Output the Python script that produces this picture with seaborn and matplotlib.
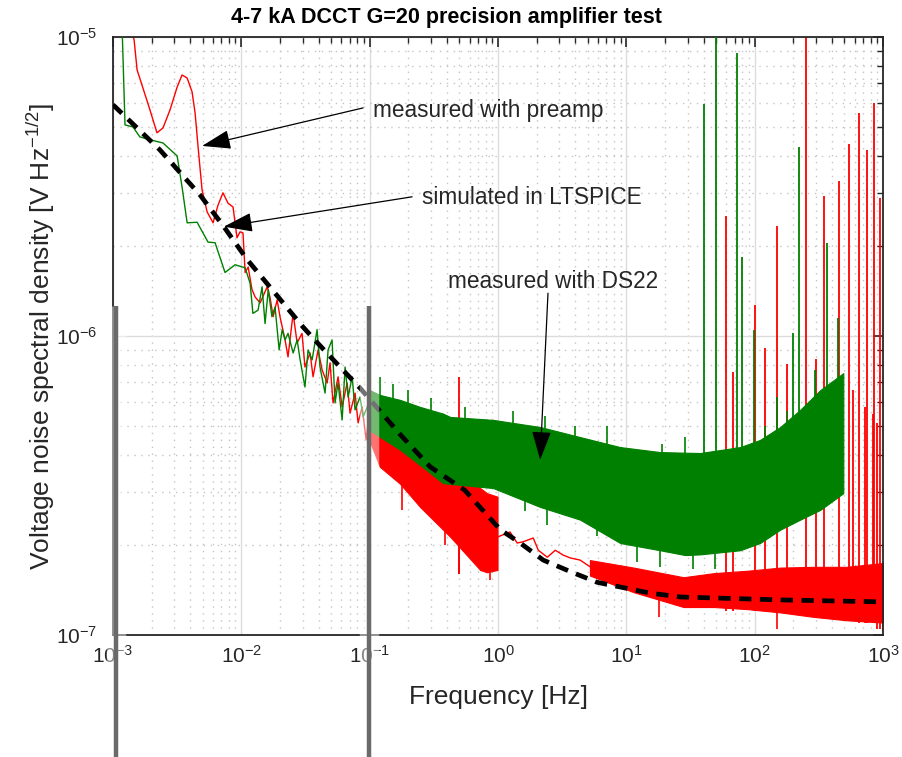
import numpy as np
import matplotlib
matplotlib.use('Agg')
import matplotlib.pyplot as plt
import matplotlib.ticker as mticker
from matplotlib.lines import Line2D
import matplotlib.patheffects as pe
import seaborn as sns

# ---- data (Hz, V/sqrt(Hz)) ----
# simulated (LTSPICE) curve
sim_freq = [1e-3, 2.32e-3, 4.77e-3, 7.3e-3, 0.0111, 0.0158, 0.0303, 0.039, 0.0588, 0.084,
            0.17, 0.296, 0.55, 1.04, 1.49, 2.25, 3.65, 5.92, 9.44, 15.4, 26.3, 158, 1000]
sim_val = [5.93e-6, 4.19e-6, 2.96e-6, 2.32e-6, 1.80e-6, 1.50e-6, 1.07e-6, 9.5e-7, 7.87e-7, 6.7e-7,
           4.72e-7, 3.65e-7, 3.05e-7, 2.25e-7, 2.03e-7, 1.78e-7, 1.63e-7, 1.50e-7, 1.44e-7, 1.38e-7,
           1.34e-7, 1.31e-7, 1.29e-7]

# measured with preamp (red), low frequency part
pre_freq = [1.35e-3, 1.46e-3, 1.54e-3, 1.71e-3, 1.94e-3, 2.20e-3, 2.45e-3, 2.78e-3, 3.16e-3, 3.45e-3,
            3.78e-3, 4.13e-3, 4.36e-3, 4.60e-3, 4.94e-3, 5.41e-3, 6.02e-3, 6.58e-3, 7.19e-3, 7.87e-3,
            8.61e-3, 9.25e-3, 9.77e-3, 0.0103,
            0.0107, 0.0113, 0.0121, 0.0128, 0.0140, 0.0159, 0.0167, 0.0177, 0.0190, 0.0200,
            0.0219, 0.0231, 0.0253, 0.0272, 0.0297, 0.0313, 0.0343, 0.0362, 0.0396, 0.0426,
            0.0466, 0.0491, 0.0518, 0.0567, 0.0610, 0.0667, 0.0703, 0.0769, 0.0812, 0.0873,
            0.0938, 0.099]
pre_val = [1.1e-5, 9.77e-6, 7.76e-6, 6.75e-6, 5.70e-6, 4.78e-6, 4.96e-6, 5.70e-6, 6.80e-6, 7.46e-6,
           7.29e-6, 6.55e-6, 5.57e-6, 4.29e-6, 3.08e-6, 2.60e-6, 2.39e-6, 2.74e-6, 3.01e-6, 2.78e-6,
           2.70e-6, 2.13e-6, 2.23e-6, 2.21e-6,
           1.63e-6, 1.70e-6, 1.43e-6, 1.35e-6, 1.29e-6, 1.46e-6, 1.35e-6, 1.16e-6, 1.32e-6, 1.16e-6,
           9.70e-7, 8.51e-7, 1.19e-6, 9.48e-7, 1.02e-6, 7.87e-7, 8.77e-7, 7.30e-7, 8.98e-7, 7.69e-7,
           6.96e-7, 8.13e-7, 5.97e-7, 7.30e-7, 5.79e-7, 6.96e-7, 5.52e-7, 6.44e-7, 5.12e-7, 5.79e-7,
           4.49e-7, 5.5e-7]

# preamp dense band 0.1 - 1 Hz
pre_band1_freq = [0.099, 0.12, 0.173, 0.247, 0.424, 0.726, 0.82, 0.99]
pre_band1_high = [6.6e-7, 6.3e-7, 5.6e-7, 4.6e-7, 3.95e-7, 3.1e-7, 2.98e-7, 2.9e-7]
pre_band1_low = [4.5e-7, 3.65e-7, 3.2e-7, 2.68e-7, 2.13e-7, 1.65e-7, 1.62e-7, 1.65e-7]

# preamp thin trace 1 - 5 Hz
pre_mid_freq = [1.0, 1.24, 1.41, 1.57, 1.88, 2.06, 2.42, 2.79, 3.22, 3.65, 4.36, 5.22]
pre_mid_val = [2.13e-7, 2.21e-7, 2.03e-7, 2.05e-7, 2.11e-7, 1.92e-7, 1.82e-7, 1.92e-7, 1.85e-7,
               1.81e-7, 1.78e-7, 1.69e-7]

# preamp dense band 5 Hz - 1 kHz
pre_band2_freq = [5.2, 11.4, 27.9, 48, 88, 158, 285, 518, 1000]
pre_band2_high = [1.78e-7, 1.68e-7, 1.56e-7, 1.61e-7, 1.64e-7, 1.68e-7, 1.69e-7, 1.69e-7, 1.74e-7]
pre_band2_low = [1.58e-7, 1.39e-7, 1.24e-7, 1.24e-7, 1.22e-7, 1.19e-7, 1.15e-7, 1.12e-7, 1.10e-7]

# preamp spikes (line peaks) and downward dips
pre_spike_freq = [0.5, 60, 68, 101, 121, 150, 179, 252, 301, 348, 456, 545, 587, 653, 727, 753,
                  839, 854, 902, 951]
pre_spike_top = [7.3e-7, 2.52e-6, 7.6e-7, 1.27e-6, 9.1e-7, 2.33e-6, 8.05e-7, 1.2e-5, 8.4e-7, 2.94e-6,
                 3.3e-6, 4.38e-6, 6.6e-7, 5.57e-6, 5.8e-7, 4.19e-6, 5.5e-7, 6.0e-6, 5.1e-7, 2.9e-6]
pre_spike_base = [1.6e-7, 1.2e-7, 1.2e-7, 1.2e-7, 1.2e-7, 1.2e-7, 1.2e-7, 1.2e-7, 1.15e-7, 1.15e-7,
                  1.12e-7, 1.12e-7, 1.12e-7, 1.1e-7, 1.1e-7, 1.1e-7, 1.1e-7, 1.1e-7, 1.05e-7, 1.05e-7]
pre_dip_freq = [0.18, 0.386, 0.5, 0.87, 18, 150, 1000]
pre_dip_low = [2.62e-7, 2.0e-7, 1.6e-7, 1.53e-7, 1.15e-7, 1.05e-7, 1.02e-7]
pre_dip_high = [3.2e-7, 2.3e-7, 2.2e-7, 1.9e-7, 1.4e-7, 1.3e-7, 1.3e-7]

# measured with DS22 (green), low frequency part
ds_freq = [1.175e-3, 1.24e-3, 1.43e-3, 1.62e-3, 1.94e-3, 2.45e-3, 3.16e-3, 3.45e-3, 3.78e-3,
           4.52e-3, 5.5e-3, 6.24e-3, 7.46e-3, 8.93e-3, 0.0107,
           0.0117, 0.0123, 0.0135, 0.0145, 0.0153, 0.0162, 0.0173, 0.0183, 0.0197, 0.0208,
           0.0219, 0.0231, 0.0253, 0.0272, 0.0287, 0.0313, 0.0331, 0.0356, 0.0389, 0.0410,
           0.0449, 0.0474, 0.0509, 0.0537, 0.0567, 0.0610, 0.0643, 0.0679, 0.0730, 0.0769,
           0.0841, 0.0889, 0.099]
ds_val = [1.1e-5, 5.08e-6, 5.0e-6, 4.63e-6, 4.53e-6, 4.42e-6, 4.0e-6, 3.15e-6, 2.39e-6,
          2.40e-6, 2.06e-6, 2.05e-6, 1.63e-6, 1.73e-6, 1.69e-6,
          1.50e-6, 1.19e-6, 1.22e-6, 1.46e-6, 1.10e-6, 1.43e-6, 1.16e-6, 1.25e-6, 8.98e-7, 1.05e-6,
          9.70e-7, 1.02e-6, 8.77e-7, 9.70e-7, 8.32e-7, 6.75e-7, 8.98e-7, 8.32e-7, 1.05e-6, 7.87e-7,
          6.44e-7, 8.98e-7, 9.70e-7, 5.97e-7, 6.96e-7, 5.24e-7, 7.87e-7, 6.25e-7, 7.30e-7, 5.66e-7,
          6.25e-7, 5.36e-7, 6.0e-7]

# DS22 dense band 0.1 Hz - 500 Hz
ds_band_freq = [0.099, 0.12, 0.173, 0.247, 0.373, 0.424, 0.916, 2.13, 4.36, 8.95, 18.3, 28.7,
                37.6, 77, 110, 158, 226, 324, 490]
ds_band_high = [6.6e-7, 6.35e-7, 6.11e-7, 5.79e-7, 5.5e-7, 5.36e-7, 5.24e-7, 4.96e-7, 4.59e-7,
                4.25e-7, 4.09e-7, 4.07e-7, 4.06e-7, 4.25e-7, 4.49e-7, 4.96e-7, 5.66e-7, 6.59e-7,
                7.51e-7]
ds_band_low = [4.85e-7, 4.6e-7, 4.16e-7, 3.7e-7, 3.22e-7, 3.2e-7, 3.10e-7, 2.68e-7, 2.43e-7,
               2.03e-7, 1.92e-7, 1.85e-7, 1.86e-7, 1.92e-7, 2.03e-7, 2.25e-7, 2.43e-7, 2.62e-7,
               2.98e-7]

# DS22 spikes (line peaks), small upward and downward excursions of the band
ds_spike_freq = [40, 50, 73, 80, 99, 150, 200, 222, 296, 368, 448]
ds_spike_top = [5.97e-6, 1.2e-5, 8.84e-6, 1.84e-6, 1.05e-6, 6.25e-7, 1.02e-6, 4.28e-6, 7.7e-7,
                2.05e-6, 1.15e-6]
ds_spike_base = [3.0e-7, 3.0e-7, 3.0e-7, 3.0e-7, 3.2e-7, 3.5e-7, 3.8e-7, 4.0e-7, 4.5e-7,
                 5.0e-7, 5.5e-7]
ds_up_freq = [0.12, 0.152, 0.2, 0.3, 0.55, 1.3, 2.34, 4.0, 7.08, 19, 28.5, 120, 180]
ds_up_top = [7.3e-7, 6.9e-7, 6.6e-7, 6.2e-7, 5.8e-7, 5.6e-7, 5.4e-7, 5.0e-7, 5.0e-7, 4.35e-7,
             4.6e-7, 5.0e-7, 5.6e-7]
ds_up_base = [6.0e-7, 5.8e-7, 5.6e-7, 5.4e-7, 5.0e-7, 4.9e-7, 4.7e-7, 4.4e-7, 4.1e-7, 3.9e-7,
              3.9e-7, 4.2e-7, 4.7e-7]
ds_dip_freq = [1.63, 2.42, 5.92, 12, 18.3, 33, 49]
ds_dip_low = [2.6e-7, 2.33e-7, 2.15e-7, 1.75e-7, 1.69e-7, 1.66e-7, 1.66e-7]
ds_dip_high = [3.0e-7, 2.8e-7, 2.6e-7, 2.2e-7, 2.2e-7, 2.2e-7, 2.2e-7]

x_major = [1e-3, 1e-2, 1e-1, 1e0, 1e1, 1e2, 1e3]
y_major = [1e-7, 1e-6, 1e-5]

# ---- plotting ----
sns.set_theme(style='white')
plt.rcParams['font.family'] = ['Liberation Sans', 'DejaVu Sans']
plt.rcParams['mathtext.fontset'] = 'custom'
plt.rcParams['mathtext.rm'] = 'Liberation Sans'
plt.rcParams['mathtext.it'] = 'Liberation Sans:italic'

red = '#ff0000'
green = '#008000'
txt = '#262626'

fig = plt.figure(figsize=(9.02, 7.57), dpi=100)
ax = fig.add_axes([0.1253, 0.1612, 0.8537, 0.79])
ax.set_xscale('log')
ax.set_yscale('log')

# preamp (red) first, DS22 on top of it
sns.lineplot(x=pre_freq, y=pre_val, ax=ax, color=red, lw=1, sort=False, estimator=None, zorder=2)
ax.fill_between(pre_band1_freq, pre_band1_low, pre_band1_high, color=red, lw=0.8, zorder=2)
sns.lineplot(x=pre_mid_freq, y=pre_mid_val, ax=ax, color=red, lw=1, sort=False, estimator=None, zorder=2)
ax.fill_between(pre_band2_freq, pre_band2_low, pre_band2_high, color=red, lw=0.8, zorder=2)
ax.vlines(pre_spike_freq, pre_spike_base, pre_spike_top, color=red, lw=1.3, zorder=2)
ax.vlines(pre_dip_freq, pre_dip_low, pre_dip_high, color=red, lw=1.2, zorder=2)

sns.lineplot(x=ds_freq, y=ds_val, ax=ax, color=green, lw=1, sort=False, estimator=None, zorder=3)
ax.fill_between(ds_band_freq, ds_band_low, ds_band_high, color=green, lw=0.8, zorder=3)
ax.vlines(ds_spike_freq, ds_spike_base, ds_spike_top, color=green, lw=1.3, zorder=3)
ax.vlines(ds_up_freq, ds_up_base, ds_up_top, color=green, lw=1.2, zorder=3)
ax.vlines(ds_dip_freq, ds_dip_low, ds_dip_high, color=green, lw=1.2, zorder=3)

sns.lineplot(x=sim_freq, y=sim_val, ax=ax, color='black', lw=3.4, sort=False, estimator=None,
             zorder=4)
ax.lines[-1].set_dashes((2.6, 1.8))

ax.set_xlim(1e-3, 1e3)
ax.set_ylim(1e-7, 1e-5)

ax.xaxis.set_major_locator(mticker.FixedLocator(x_major))
ax.yaxis.set_major_locator(mticker.FixedLocator(y_major))
ax.xaxis.set_major_formatter(mticker.LogFormatterSciNotation())
ax.yaxis.set_major_formatter(mticker.LogFormatterSciNotation())
ax.xaxis.set_minor_locator(mticker.LogLocator(base=10, subs=np.arange(2, 10), numticks=20))
ax.yaxis.set_minor_locator(mticker.LogLocator(base=10, subs=np.arange(2, 10), numticks=20))
ax.xaxis.set_minor_formatter(mticker.NullFormatter())
ax.yaxis.set_minor_formatter(mticker.NullFormatter())

ax.grid(True, which='major', color='#dcdcdc', lw=1.0, ls='-', zorder=0)
ax.grid(True, which='minor', color='#c4c4c4', lw=1.0, ls=(0, (1, 4)), zorder=0)
ax.set_axisbelow(True)
ax.tick_params(which='both', direction='in', top=True, right=True, colors=txt, labelcolor=txt)
ax.tick_params(which='major', length=7, width=1.2, labelsize=15)
ax.tick_params(axis='x', which='major', pad=7)
ax.tick_params(axis='y', which='major', pad=11)
ax.tick_params(which='minor', length=4, width=1.0)
for s in ax.spines.values():
    s.set_color(txt)
    s.set_linewidth(1.3)

ax.set_xlabel('Frequency [Hz]', fontsize=19, color=txt)
ax.xaxis.set_label_coords(0.5, -0.083)
ax.set_ylabel('Voltage noise spectral density [V Hz$^{-1/2}$]', fontsize=19, color=txt)
ax.yaxis.set_label_coords(-0.073, 0.5)
fig.text(446 / 902, 1 - 18 / 757, '4-7 kA DCCT G=20 precision amplifier test', fontsize=15.5,
         fontweight='bold', color='black', ha='center', va='center')

arrow_kw = dict(arrowstyle='-|>,head_length=0.9,head_width=0.3', color='black', lw=0.9,
                mutation_scale=20, shrinkA=0, shrinkB=0)
ax.annotate('', xy=(4.94e-3, 4.32e-6), xytext=(0.0889, 5.79e-6), arrowprops=arrow_kw, zorder=5)
ax.text(0.106, 5.66e-6, 'measured with preamp', fontsize=16.3, va='center', ha='left', zorder=5)
ax.annotate('', xy=(7.3e-3, 2.32e-6), xytext=(0.214, 2.92e-6), arrowprops=arrow_kw, zorder=5)
ax.text(0.256, 2.90e-6, 'simulated in LTSPICE', fontsize=16.3, va='center', ha='left', zorder=5)
ax.annotate('', xy=(2.13, 3.85e-7), xytext=(2.45, 1.39e-6), arrowprops=arrow_kw, zorder=5)
ax.text(0.408, 1.52e-6, 'measured with DS22', fontsize=16.3, va='center', ha='left', zorder=5)

# grey marker bars sticking out below the axes
for xp in [116 / 902, 369 / 902]:
    ln = Line2D([xp, xp], [0.0, 1 - 306 / 757], transform=fig.transFigure, color='#6a6a6a',
                lw=3.2, zorder=10, solid_capstyle='butt',
                path_effects=[pe.Stroke(linewidth=14, foreground='white', alpha=0.45), pe.Normal()])
    fig.add_artist(ln)

fig.savefig('out.png', dpi=100)
